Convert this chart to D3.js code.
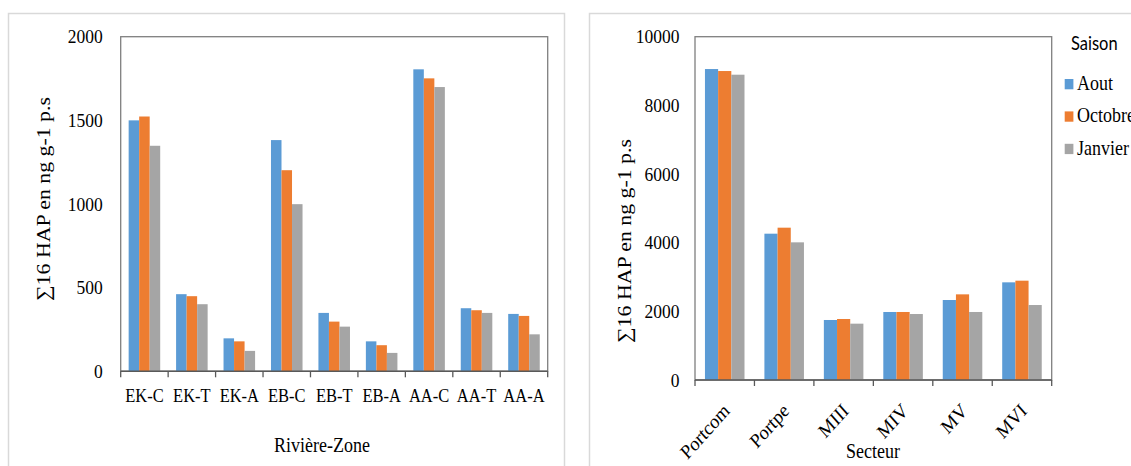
<!DOCTYPE html>
<html><head><meta charset="utf-8">
<script src="https://cdn.jsdelivr.net/npm/d3@7"></script>
<style>body{margin:0;background:#fff} svg{display:block}</style>
</head><body><svg id="c" width="1131" height="466"></svg>
<script>
// ---- data ----
const seasons = ["Aout", "Octobre", "Janvier"];
const seasonColors = ["#5b9bd5", "#ed7d31", "#a5a5a5"];

const zones = ["EK-C", "EK-T", "EK-A", "EB-C", "EB-T", "EB-A", "AA-C", "AA-T", "AA-A"];
const zoneAout    = [1500, 461, 197, 1382, 349, 179, 1805, 377, 343];
const zoneOctobre = [1523, 449, 179, 1202, 297, 156, 1751, 365, 331];
const zoneJanvier = [1348, 401, 122,  999, 267, 110, 1699, 349, 221];
const zoneTicks = [0, 500, 1000, 1500, 2000];

const secteurs = ["Portcom", "Portpe", "MIII", "MIV", "MV", "MVI"];
const secteurAout    = [9058, 4262, 1748, 1981, 2330, 2845];
const secteurOctobre = [9000, 4437, 1777, 1981, 2495, 2893];
const secteurJanvier = [8893, 4010, 1641, 1922, 1981, 2184];
const secteurTicks = [0, 2000, 4000, 6000, 8000, 10000];

const yTitle = "\u221116 HAP en ng g-1 p.s";

// ---- drawing ----
const SY = 1.12;
const SERIF = "'Liberation Serif','Times New Roman',serif";
const svg = d3.select("#c");
svg.append("rect").attr("width",1131).attr("height",466).attr("fill","#fff");

// panel borders
svg.append("rect").attr("x",8.5).attr("y",13.5).attr("width",556).attr("height",480)
  .attr("fill","none").attr("stroke","#d9d9d9").attr("stroke-width",1.5);
svg.append("rect").attr("x",589.5).attr("y",13.5).attr("width",600).attr("height",480)
  .attr("fill","none").attr("stroke","#d9d9d9").attr("stroke-width",1.5);

function chart(o) {
  const g = svg.append("g");
  const x0 = d3.scaleBand().domain(o.cats).range([o.left, o.right])
    .paddingInner(0.335).paddingOuter(0.1675);
  const x1 = d3.scaleBand().domain(seasons).range([0, x0.bandwidth()]);
  const y = d3.scaleLinear().domain([0, o.max]).range([o.bottom, o.top]);
  const rows = o.cats.map((c, i) => ({cat: c, vals: o.series.map((s, j) => ({key: seasons[j], v: s[i], color: seasonColors[j]}))}));

  // frame
  g.append("rect").attr("x", o.left).attr("y", o.top)
    .attr("width", o.right - o.left).attr("height", o.bottom - o.top)
    .attr("fill", "none").attr("stroke", "#7f7f7f").attr("stroke-width", 1.3);

  // bars
  g.selectAll("g.grp").data(rows).join("g").attr("class","grp")
    .attr("transform", d => `translate(${x0(d.cat)},0)`)
    .selectAll("rect").data(d => d.vals).join("rect")
    .attr("x", d => x1(d.key)).attr("width", x1.bandwidth())
    .attr("y", d => y(d.v)).attr("height", d => y(0) - y(d.v))
    .attr("fill", d => d.color);

  // y axis labels
  const ya = g.append("g").attr("transform", `translate(${o.left},0)`)
    .call(d3.axisLeft(y).tickValues(o.ticks).tickSize(0).tickPadding(o.yPad).tickFormat(d3.format("d")));
  ya.select(".domain").remove();
  ya.selectAll("text").attr("font-family", SERIF).attr("font-size", 17.5).attr("fill", "#000")
    .attr("transform", `scale(1,${SY})`);

  // x axis
  const xa = g.append("g").attr("transform", `translate(0,${o.bottom})`)
    .call(d3.axisBottom(x0).tickSize(0));
  xa.select(".domain").remove();
  g.append("line").attr("x1", o.left).attr("x2", o.right).attr("y1", o.bottom).attr("y2", o.bottom)
    .attr("stroke", "#595959").attr("stroke-width", 1.5);
  const bounds = d3.range(o.cats.length + 1).map(i => o.left + i * x0.step());
  g.selectAll("line.tk").data(bounds).join("line").attr("class","tk")
    .attr("x1", d => d).attr("x2", d => d).attr("y1", o.bottom).attr("y2", o.bottom + 6)
    .attr("stroke", "#595959").attr("stroke-width", 1.3);
  const xt = xa.selectAll("text").attr("font-family", SERIF).attr("font-size", o.xFont).attr("fill", "#000")
    .attr("y", null).attr("dy", null);
  if (o.rotate) {
    xt.attr("text-anchor", "end")
      .attr("transform", `translate(${o.rotDx},${o.rotDy}) scale(1,${SY}) rotate(-45)`);
  } else {
    xt.attr("transform", `translate(0,${o.xDy}) scale(1,${SY})`);
  }

  // titles
  g.append("text").attr("text-anchor", "middle")
    .attr("transform", `translate(${o.yTitleX},${o.yTitleY}) scale(1,${SY}) rotate(-90)`)
    .attr("font-family", SERIF).attr("font-size", 19.5).attr("fill", "#000").text(yTitle);
  g.append("text").attr("text-anchor", "middle")
    .attr("transform", `translate(${o.xTitleX},${o.xTitleY}) scale(1,${SY})`)
    .attr("font-family", SERIF).attr("font-size", 18).attr("fill", "#000").text(o.xTitle);
}

chart({cats: zones, series: [zoneAout, zoneOctobre, zoneJanvier], ticks: zoneTicks, max: 2000,
  left: 120.7, right: 547.7, top: 36.7, bottom: 371.3, yPad: 18, xFont: 16.5, xDy: 30.4,
  yTitleX: 50, yTitleY: 199, xTitle: "Rivi\u00e8re-Zone", xTitleX: 322, xTitleY: 451.5});

chart({cats: secteurs, series: [secteurAout, secteurOctobre, secteurJanvier], ticks: secteurTicks, max: 10000,
  left: 695, right: 1051.7, top: 36.7, bottom: 380, yPad: 15.5, xFont: 18, rotate: true, rotDx: 6, rotDy: 32,
  yTitleX: 631, yTitleY: 241, xTitle: "Secteur", xTitleX: 873, xTitleY: 458});

// legend
const lg = svg.append("g");
lg.append("text").attr("transform", `translate(1071,50) scale(1,${SY})`)
  .attr("font-family", "Lato,'Open Sans',sans-serif").attr("font-size", 16.5).attr("fill", "#000").text("Saison");
const li = lg.selectAll("g.li").data(seasons).join("g").attr("class","li")
  .attr("transform", (d, i) => `translate(0,${i * 32.4})`);
li.append("rect").attr("x", 1064.7).attr("y", 79).attr("width", 8.7).attr("height", 10.3)
  .attr("fill", (d, i) => seasonColors[i]);
li.append("text").attr("transform", `translate(1077,90) scale(1,${SY})`)
  .attr("font-family", SERIF).attr("font-size", 18).attr("fill", "#000").text(d => d);
</script>
</body></html>
